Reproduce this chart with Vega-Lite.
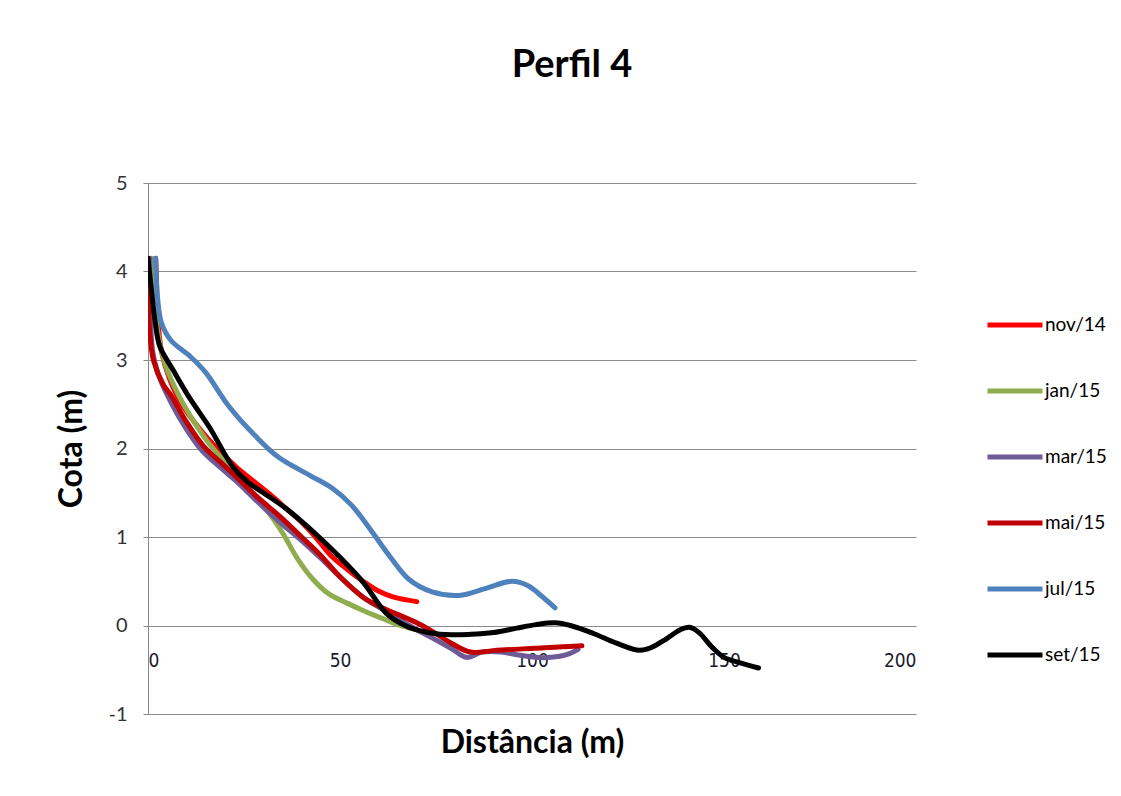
{
  "$schema": "https://vega.github.io/schema/vega-lite/v6.json",
  "autosize": "none",
  "width": 768,
  "height": 531,
  "padding": {"left": 148, "top": 183, "right": 205, "bottom": 82},
  "background": "white",
  "title": {"text": "Perfil 4", "font": "Lato", "fontSize": 38, "fontWeight": "bold", "color": "#000000", "anchor": "middle", "dx": 40, "offset": 88},
  "config": {"view": {"stroke": null}},
  "datasets": {
    "pts": [
      {"s":"nov/14","x":2,"y":4.15},{"s":"nov/14","x":2.2,"y":3.9},{"s":"nov/14","x":2.5,"y":3.5},{"s":"nov/14","x":3.5,"y":3.1},{"s":"nov/14","x":5.5,"y":2.8},{"s":"nov/14","x":8.5,"y":2.52},{"s":"nov/14","x":13.5,"y":2.22},{"s":"nov/14","x":18,"y":2.0},{"s":"nov/14","x":23,"y":1.79},{"s":"nov/14","x":27.5,"y":1.63},{"s":"nov/14","x":31.8,"y":1.48},{"s":"nov/14","x":36,"y":1.32},{"s":"nov/14","x":40.4,"y":1.15},{"s":"nov/14","x":44,"y":0.98},{"s":"nov/14","x":47.4,"y":0.8},{"s":"nov/14","x":52,"y":0.63},{"s":"nov/14","x":56,"y":0.5},{"s":"nov/14","x":60,"y":0.39},{"s":"nov/14","x":64,"y":0.32},{"s":"nov/14","x":70,"y":0.27},
      {"s":"jan/15","x":1,"y":4.15},{"s":"jan/15","x":1.5,"y":3.8},{"s":"jan/15","x":2.6,"y":3.3},{"s":"jan/15","x":4.5,"y":2.95},{"s":"jan/15","x":8,"y":2.6},{"s":"jan/15","x":12,"y":2.3},{"s":"jan/15","x":16,"y":2.05},{"s":"jan/15","x":21,"y":1.8},{"s":"jan/15","x":26,"y":1.55},{"s":"jan/15","x":31,"y":1.3},{"s":"jan/15","x":35,"y":1.05},{"s":"jan/15","x":39,"y":0.75},{"s":"jan/15","x":43,"y":0.52},{"s":"jan/15","x":47,"y":0.36},{"s":"jan/15","x":52,"y":0.25},{"s":"jan/15","x":56,"y":0.17},{"s":"jan/15","x":61,"y":0.08},{"s":"jan/15","x":65,"y":0.01},{"s":"jan/15","x":70,"y":-0.05},
      {"s":"mar/15","x":0.5,"y":4.15},{"s":"mar/15","x":0.6,"y":3.7},{"s":"mar/15","x":1.2,"y":3.1},{"s":"mar/15","x":3,"y":2.8},{"s":"mar/15","x":6,"y":2.52},{"s":"mar/15","x":10,"y":2.22},{"s":"mar/15","x":14,"y":1.98},{"s":"mar/15","x":19,"y":1.78},{"s":"mar/15","x":23,"y":1.63},{"s":"mar/15","x":28,"y":1.42},{"s":"mar/15","x":34,"y":1.18},{"s":"mar/15","x":40,"y":0.96},{"s":"mar/15","x":45,"y":0.76},{"s":"mar/15","x":50,"y":0.55},{"s":"mar/15","x":56,"y":0.32},{"s":"mar/15","x":62,"y":0.16},{"s":"mar/15","x":68,"y":0.0},{"s":"mar/15","x":74,"y":-0.14},{"s":"mar/15","x":79,"y":-0.26},{"s":"mar/15","x":83,"y":-0.36},{"s":"mar/15","x":87,"y":-0.3},{"s":"mar/15","x":92,"y":-0.3},{"s":"mar/15","x":96,"y":-0.33},{"s":"mar/15","x":101,"y":-0.36},{"s":"mar/15","x":105,"y":-0.36},{"s":"mar/15","x":109,"y":-0.33},{"s":"mar/15","x":112,"y":-0.27},
      {"s":"mai/15","x":0,"y":4.15},{"s":"mai/15","x":0,"y":3.7},{"s":"mai/15","x":0.5,"y":3.3},{"s":"mai/15","x":1.4,"y":3.0},{"s":"mai/15","x":4,"y":2.72},{"s":"mai/15","x":6,"y":2.6},{"s":"mai/15","x":10,"y":2.3},{"s":"mai/15","x":14.4,"y":2.03},{"s":"mai/15","x":19,"y":1.84},{"s":"mai/15","x":23,"y":1.68},{"s":"mai/15","x":28,"y":1.47},{"s":"mai/15","x":34.4,"y":1.23},{"s":"mai/15","x":40,"y":1.0},{"s":"mai/15","x":44.8,"y":0.8},{"s":"mai/15","x":50,"y":0.55},{"s":"mai/15","x":56,"y":0.32},{"s":"mai/15","x":61,"y":0.2},{"s":"mai/15","x":66.4,"y":0.1},{"s":"mai/15","x":70,"y":0.03},{"s":"mai/15","x":73.4,"y":-0.05},{"s":"mai/15","x":79,"y":-0.2},{"s":"mai/15","x":83.9,"y":-0.3},{"s":"mai/15","x":90.9,"y":-0.28},{"s":"mai/15","x":99.5,"y":-0.26},{"s":"mai/15","x":108,"y":-0.24},{"s":"mai/15","x":113,"y":-0.23},
      {"s":"jul/15","x":2,"y":4.15},{"s":"jul/15","x":2.5,"y":3.7},{"s":"jul/15","x":3.5,"y":3.42},{"s":"jul/15","x":6,"y":3.22},{"s":"jul/15","x":11,"y":3.04},{"s":"jul/15","x":15,"y":2.86},{"s":"jul/15","x":21,"y":2.48},{"s":"jul/15","x":28,"y":2.14},{"s":"jul/15","x":34,"y":1.9},{"s":"jul/15","x":42,"y":1.7},{"s":"jul/15","x":48,"y":1.55},{"s":"jul/15","x":53,"y":1.36},{"s":"jul/15","x":58,"y":1.08},{"s":"jul/15","x":63,"y":0.78},{"s":"jul/15","x":68,"y":0.52},{"s":"jul/15","x":74,"y":0.38},{"s":"jul/15","x":81,"y":0.34},{"s":"jul/15","x":88,"y":0.42},{"s":"jul/15","x":94.8,"y":0.5},{"s":"jul/15","x":99,"y":0.45},{"s":"jul/15","x":102,"y":0.35},{"s":"jul/15","x":106,"y":0.2},
      {"s":"set/15","x":0,"y":4.15},{"s":"set/15","x":1,"y":3.75},{"s":"set/15","x":1.8,"y":3.45},{"s":"set/15","x":3.1,"y":3.15},{"s":"set/15","x":6.5,"y":2.89},{"s":"set/15","x":11,"y":2.56},{"s":"set/15","x":16,"y":2.24},{"s":"set/15","x":22,"y":1.8},{"s":"set/15","x":26,"y":1.62},{"s":"set/15","x":30,"y":1.5},{"s":"set/15","x":36,"y":1.32},{"s":"set/15","x":42,"y":1.1},{"s":"set/15","x":50,"y":0.77},{"s":"set/15","x":56,"y":0.49},{"s":"set/15","x":62,"y":0.14},{"s":"set/15","x":66,"y":0.02},{"s":"set/15","x":70,"y":-0.05},{"s":"set/15","x":76,"y":-0.1},{"s":"set/15","x":84,"y":-0.1},{"s":"set/15","x":90,"y":-0.08},{"s":"set/15","x":96,"y":-0.03},{"s":"set/15","x":101,"y":0.01},{"s":"set/15","x":106,"y":0.03},{"s":"set/15","x":110,"y":0.0},{"s":"set/15","x":116,"y":-0.09},{"s":"set/15","x":122,"y":-0.2},{"s":"set/15","x":128,"y":-0.28},{"s":"set/15","x":131,"y":-0.25},{"s":"set/15","x":135,"y":-0.15},{"s":"set/15","x":138.5,"y":-0.05},{"s":"set/15","x":141,"y":-0.02},{"s":"set/15","x":143.5,"y":-0.08},{"s":"set/15","x":147,"y":-0.25},{"s":"set/15","x":150,"y":-0.36},{"s":"set/15","x":154,"y":-0.42},{"s":"set/15","x":159,"y":-0.48}
    ]
  },
  "data": {"name": "pts"},
  "mark": {"type": "line", "interpolate": "catmull-rom", "strokeWidth": 5, "strokeCap": "round", "strokeJoin": "round", "clip": true},
  "encoding": {
    "x": {
      "field": "x", "type": "quantitative",
      "scale": {"domain": [0, 200], "nice": false, "zero": false},
      "axis": {
        "title": "Distância (m)", "values": [0, 50, 100, 150, 200], "offset": -88.5,
        "domain": false, "ticks": false, "grid": false,
        "labelFont": "DejaVu Sans Condensed, Lato", "labelFontSize": 19, "labelColor": "#1a1a2e", "labelPadding": 26,
        "titleFont": "Lato", "titleFontSize": 32, "titleFontWeight": "bold", "titleColor": "#000000", "titlePadding": 57
      }
    },
    "y": {
      "field": "y", "type": "quantitative",
      "scale": {"domain": [-1, 5], "nice": false, "zero": false},
      "axis": {
        "title": "Cota (m)", "values": [-1, 0, 1, 2, 3, 4, 5],
        "labelExpr": "replace(datum.label, '−', '-')",
        "domain": true, "domainColor": "#888888", "domainWidth": 1,
        "ticks": true, "tickSize": 5, "tickColor": "#888888",
        "grid": true, "gridColor": "#8c8c8c", "gridWidth": 1,
        "labelFont": "Lato", "labelFontSize": 20, "labelColor": "#333333", "labelPadding": 16,
        "titleFont": "Lato", "titleFontSize": 32, "titleFontWeight": "bold", "titleColor": "#000000", "titlePadding": 19
      }
    },
    "color": {
      "field": "s", "type": "nominal",
      "scale": {"domain": ["nov/14", "jan/15", "mar/15", "mai/15", "jul/15", "set/15"], "range": ["#ff0000", "#8fac4f", "#6f5a98", "#c00000", "#4f81bd", "#000000"]},
      "legend": {
        "title": null, "orient": "none", "legendX": 837, "legendY": 112, "padding": 0,
        "symbolType": "stroke", "symbolSize": 3025, "symbolStrokeWidth": 5,
        "rowPadding": 26, "labelOffset": 0,
        "labelFont": "Lato", "labelFontSize": 19, "labelColor": "#000000"
      }
    },
    "order": {"value": null}
  }
}
